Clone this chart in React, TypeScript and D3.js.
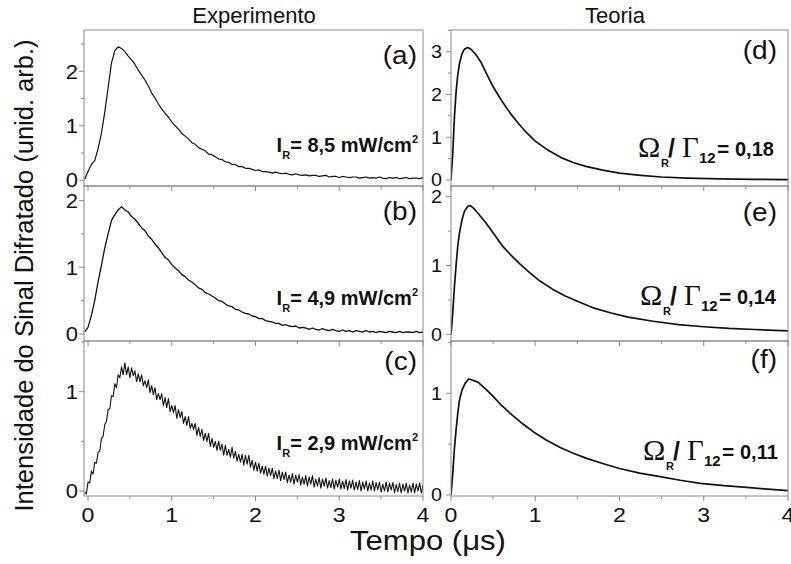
import React from "react";
import * as d3 from "d3";

// ---------- data ----------
const EXP_T0 = -0.04;
const EXP_STEP_AB = 0.04;
const EXP_STEP_C = 0.02;

const expA = [
  0.02, 0.16, 0.29, 0.36, 0.58, 0.86, 1.25, 1.7, 2.15, 2.38,
  2.45, 2.42, 2.36, 2.28, 2.21, 2.13, 2.02, 1.93, 1.84, 1.73,
  1.6, 1.51, 1.4, 1.31, 1.23, 1.16, 1.07, 1.0, 0.94, 0.86,
  0.81, 0.76, 0.69, 0.66, 0.6, 0.57, 0.54, 0.48, 0.47, 0.43,
  0.39, 0.38, 0.34, 0.33, 0.29, 0.29, 0.25, 0.25, 0.22, 0.22,
  0.2, 0.18, 0.19, 0.16, 0.16, 0.15, 0.13, 0.15, 0.13, 0.12,
  0.13, 0.11, 0.1, 0.12, 0.1, 0.09, 0.1, 0.08, 0.09, 0.09,
  0.07, 0.08, 0.09, 0.06, 0.07, 0.07, 0.05, 0.07, 0.06, 0.05,
  0.06, 0.06, 0.04, 0.05, 0.06, 0.04, 0.05, 0.04, 0.06, 0.04,
  0.03, 0.05, 0.04, 0.05, 0.03, 0.04, 0.05, 0.03, 0.04, 0.04,
  0.03, 0.05,
];

const expB = [
  0.03, 0.1, 0.28, 0.5, 0.78, 1.03, 1.29, 1.5, 1.7, 1.79,
  1.86, 1.91, 1.86, 1.83, 1.76, 1.72, 1.66, 1.59, 1.55, 1.47,
  1.42, 1.35, 1.29, 1.22, 1.15, 1.11, 1.04, 0.99, 0.95, 0.89,
  0.86, 0.81, 0.78, 0.74, 0.69, 0.67, 0.62, 0.6, 0.57, 0.54,
  0.5, 0.49, 0.45, 0.42, 0.41, 0.37, 0.36, 0.33, 0.31, 0.3,
  0.27, 0.26, 0.23, 0.23, 0.2, 0.19, 0.18, 0.16, 0.16, 0.13,
  0.14, 0.12, 0.11, 0.12, 0.09, 0.1, 0.09, 0.07, 0.09, 0.07,
  0.06, 0.08, 0.06, 0.05, 0.07, 0.05, 0.04, 0.06, 0.04, 0.05,
  0.03, 0.05, 0.04, 0.03, 0.05, 0.03, 0.04, 0.02, 0.04, 0.03,
  0.02, 0.04, 0.03, 0.02, 0.04, 0.02, 0.03, 0.03, 0.02, 0.04,
  0.02, 0.03,
];

const expC = [
  -0.01, -0.03, 0.09, 0.08, 0.2, 0.17, 0.29, 0.28, 0.39, 0.4,
  0.53, 0.55, 0.67, 0.7, 0.82, 0.83, 0.96, 0.95, 1.08, 1.04,
  1.17, 1.14, 1.25, 1.17, 1.29, 1.17, 1.25, 1.14, 1.24, 1.16,
  1.21, 1.1, 1.18, 1.1, 1.17, 1.06, 1.11, 1.04, 1.12, 0.99,
  1.06, 0.97, 1.04, 0.92, 0.98, 0.92, 0.98, 0.86, 0.94, 0.84,
  0.93, 0.8, 0.86, 0.79, 0.86, 0.73, 0.82, 0.74, 0.8, 0.68,
  0.75, 0.66, 0.75, 0.63, 0.68, 0.62, 0.68, 0.56, 0.64, 0.55,
  0.62, 0.51, 0.58, 0.5, 0.58, 0.45, 0.53, 0.44, 0.5, 0.41,
  0.5, 0.41, 0.47, 0.36, 0.46, 0.36, 0.42, 0.34, 0.44, 0.33,
  0.4, 0.3, 0.37, 0.29, 0.37, 0.26, 0.36, 0.27, 0.36, 0.24,
  0.31, 0.21, 0.29, 0.2, 0.28, 0.18, 0.25, 0.17, 0.25, 0.15,
  0.23, 0.155, 0.23, 0.125, 0.2, 0.125, 0.21, 0.105, 0.19, 0.115,
  0.19, 0.085, 0.16, 0.09, 0.175, 0.07, 0.16, 0.09, 0.165, 0.06,
  0.14, 0.07, 0.155, 0.05, 0.14, 0.07, 0.155, 0.04, 0.12, 0.05,
  0.135, 0.03, 0.12, 0.05, 0.13, 0.03, 0.105, 0.035, 0.12, 0.02,
  0.11, 0.04, 0.12, 0.02, 0.1, 0.025, 0.115, 0.01, 0.1, 0.03,
  0.11, 0.01, 0.09, 0.015, 0.105, 0.0, 0.09, 0.02, 0.1, 0.0,
  0.08, 0.01, 0.1, 0.0, 0.085, 0.015, 0.09, -0.01, 0.07, 0.0,
  0.09, -0.01, 0.08, 0.01, 0.085, -0.015, 0.065, -0.005, 0.08, -0.02,
  0.07, 0.0, 0.08, -0.02, 0.06, -0.01, 0.08, -0.02, 0.07, 0.0,
  0.08, -0.02, 0.06,
];

const theoD: [number, number][] = [
  [0, 0], [0.02, 0.6], [0.04, 1.45], [0.06, 2.05], [0.08, 2.45], [0.1, 2.72],
  [0.13, 2.95], [0.16, 3.06], [0.2, 3.1], [0.24, 3.05], [0.3, 2.92], [0.36, 2.74],
  [0.43, 2.45], [0.5, 2.18], [0.6, 1.86], [0.7, 1.57], [0.8, 1.32], [0.9, 1.1],
  [1.0, 0.91], [1.15, 0.7], [1.3, 0.53], [1.45, 0.41], [1.6, 0.32], [1.8, 0.23],
  [2.0, 0.16], [2.25, 0.11], [2.5, 0.07], [2.8, 0.045], [3.2, 0.025], [3.6, 0.015],
  [4.0, 0.01],
];

const theoE: [number, number][] = [
  [0, 0], [0.02, 0.3], [0.04, 0.68], [0.06, 1.0], [0.08, 1.28], [0.1, 1.47],
  [0.13, 1.66], [0.16, 1.79], [0.2, 1.86], [0.23, 1.87], [0.27, 1.83], [0.32, 1.76],
  [0.42, 1.61], [0.52, 1.44], [0.62, 1.27], [0.72, 1.14], [0.82, 1.02], [0.94, 0.89],
  [1.06, 0.77], [1.2, 0.66], [1.35, 0.56], [1.5, 0.48], [1.7, 0.38], [1.9, 0.31],
  [2.1, 0.25], [2.4, 0.19], [2.7, 0.14], [3.0, 0.11], [3.3, 0.085], [3.6, 0.07],
  [4.0, 0.05],
];

const theoF: [number, number][] = [
  [0, 0], [0.02, 0.2], [0.04, 0.45], [0.06, 0.64], [0.08, 0.8], [0.1, 0.93],
  [0.13, 1.03], [0.17, 1.1], [0.21, 1.14], [0.25, 1.13], [0.32, 1.11], [0.4, 1.05],
  [0.5, 0.97], [0.6, 0.88], [0.72, 0.79], [0.85, 0.7], [0.98, 0.62], [1.13, 0.54],
  [1.29, 0.47], [1.45, 0.41], [1.61, 0.36], [1.8, 0.31], [2.0, 0.26], [2.24, 0.215],
  [2.48, 0.18], [2.72, 0.145], [2.96, 0.115], [3.24, 0.092], [3.51, 0.075], [3.76, 0.058],
  [4.0, 0.042],
];

const xTicks = [0, 1, 2, 3, 4];
const xMinor = [0.5, 1.5, 2.5, 3.5];
const yTicksA = [0, 1, 2];
const yTicksB = [0, 1, 2];
const yTicksC = [0, 1];
const yTicksD = [0, 1, 2, 3];
const yTicksE = [0, 1, 2];
const yTicksF = [0, 1];

const expLabels = ["8,5", "4,9", "2,9"];
const theoLabels = ["0,18", "0,14", "0,11"];
const panelTags = ["(a)", "(b)", "(c)", "(d)", "(e)", "(f)"];

// ---------- layout ----------
const W = 791;
const H = 564;
const SANS = "'Liberation Sans', Arial, Helvetica, sans-serif";
const SERIF = "'Liberation Serif', 'Times New Roman', serif";
const FRAME = "#8a8a8a";
const INK = "#111";

const rows = [
  { top: 30, bottom: 186 },
  { top: 186, bottom: 341 },
  { top: 341, bottom: 496 },
];

type PanelProps = {
  side: "left" | "right";
  row: number;
  yDomain: [number, number];
  yTicks: number[];
  points: [number, number][];
  strokeWidth: number;
  tag: string;
  tagY: number;
  showXLabels: boolean;
  annotation: React.ReactNode;
};

function Panel(p: PanelProps) {
  const { top, bottom } = rows[p.row];
  const left = p.side === "left" ? 84 : 451;
  const right = p.side === "left" ? 423 : 788;
  const x = d3
    .scaleLinear()
    .domain(p.side === "left" ? [-0.048, 4] : [0, 4])
    .range([left, right]);
  const y = d3.scaleLinear().domain(p.yDomain).range([bottom, top]);
  const line = d3
    .line<[number, number]>()
    .x((d) => x(d[0]))
    .y((d) => y(d[1]));
  const clipId = `clip-${p.side}-${p.row}`;
  const yMinor: number[] = [];
  for (let v = 0.5; v < p.yDomain[1]; v += 1) yMinor.push(v);
  const labelRight = p.side === "left" ? 78 : 442;
  const tagX = p.side === "left" ? 417 : 777;

  return (
    <g>
      <defs>
        <clipPath id={clipId}>
          <rect x={left} y={top} width={right - left} height={bottom - top} />
        </clipPath>
      </defs>
      <path
        d={line(p.points) || ""}
        fill="none"
        stroke={INK}
        strokeWidth={p.strokeWidth}
        strokeLinejoin="round"
        clipPath={`url(#${clipId})`}
      />
      <rect
        x={left}
        y={top}
        width={right - left}
        height={bottom - top}
        fill="none"
        stroke={FRAME}
        strokeWidth={1}
      />
      {xTicks.map((t) => (
        <line key={`xt${t}`} x1={x(t)} x2={x(t)} y1={bottom} y2={bottom + 5} stroke={FRAME} />
      ))}
      {xMinor.map((t) => (
        <line key={`xm${t}`} x1={x(t)} x2={x(t)} y1={bottom} y2={bottom + 3} stroke={FRAME} />
      ))}
      {p.yTicks.map((v) => (
        <line key={`yt${v}`} x1={left - 5} x2={left} y1={y(v)} y2={y(v)} stroke={FRAME} />
      ))}
      {yMinor.map((v) => (
        <line key={`ym${v}`} x1={left - 3} x2={left} y1={y(v)} y2={y(v)} stroke={FRAME} />
      ))}
      {p.yTicks.map((v) => (
        <text
          key={`yl${v}`}
          transform={`translate(${labelRight},${y(v)}) scale(1.1,1)`}
          dy="0.36em"
          textAnchor="end"
          fontFamily={SANS}
          fontSize={p.side === "left" ? 20 : 18}
          fill={INK}
        >
          {v}
        </text>
      ))}
      {p.showXLabels &&
        xTicks.map((t) => (
          <text
            key={`xl${t}`}
            transform={`translate(${x(t)},${522}) scale(1.1,1)`}
            textAnchor="middle"
            fontFamily={SANS}
            fontSize={21}
            fill={INK}
          >
            {t}
          </text>
        ))}
      <text
        transform={`translate(${tagX},${p.tagY}) scale(1.12,1)`}
        textAnchor="end"
        fontFamily={SANS}
        fontSize={25}
        fill={INK}
      >
        {p.tag}
      </text>
      {p.annotation}
    </g>
  );
}

function ExpNote({ value, baseline }: { value: string; baseline: number }) {
  return (
    <text
      x={418}
      y={baseline}
      textAnchor="end"
      fontFamily={SANS}
      fontWeight="bold"
      fontSize={20}
      fill={INK}
    >
      I
      <tspan fontSize={11} dy={7}>R</tspan>
      <tspan dy={-7}>= {value} mW/cm</tspan>
      <tspan fontSize={11} dy={-9}>2</tspan>
    </text>
  );
}

function TheoNote({ value, x0, baseline }: { value: string; x0: number; baseline: number }) {
  return (
    <g fill={INK}>
      <text x={x0} y={baseline} fontFamily={SERIF} fontSize={30}>Ω</text>
      <text x={x0 + 23} y={baseline + 10} fontFamily={SANS} fontWeight="bold" fontSize={11}>R</text>
      <text x={x0 + 30} y={baseline} fontFamily={SANS} fontWeight="bold" fontSize={25}>/</text>
      <text x={x0 + 44} y={baseline} fontFamily={SERIF} fontSize={29}>Γ</text>
      <text x={x0 + 61} y={baseline + 6} fontFamily={SANS} fontWeight="bold" fontSize={15}>12</text>
      <text x={x0 + 79} y={baseline - 1} fontFamily={SANS} fontWeight="bold" fontSize={21}>=</text>
      <text x={x0 + 97} y={baseline - 1} fontFamily={SANS} fontWeight="bold" fontSize={20}>{value}</text>
    </g>
  );
}

function toPoints(values: number[], step: number): [number, number][] {
  return values.map((v, i) => [EXP_T0 + i * step, v] as [number, number]);
}

export default function App() {
  return (
    <svg
      width={W}
      height={H}
      viewBox={`0 0 ${W} ${H}`}
      style={{ position: "absolute", left: 0, top: 0, background: "#fff" }}
    >
      <rect x={0} y={0} width={W} height={H} fill="#fff" />
      <text x={254} y={23} textAnchor="middle" fontFamily={SANS} fontSize={22} fill={INK}>
        Experimento
      </text>
      <text x={615} y={23} textAnchor="middle" fontFamily={SANS} fontSize={22} fill={INK}>
        Teoria
      </text>
      <text
        transform="translate(33,275.5) rotate(-90)"
        textAnchor="middle"
        fontFamily={SANS}
        fontSize={25.5}
        fill={INK}
      >
        Intensidade do Sinal Difratado (unid. arb.)
      </text>
      <text
        transform="translate(428,550) scale(1.15,1)"
        textAnchor="middle"
        fontFamily={SANS}
        fontSize={27}
        fill={INK}
      >
        Tempo (μs)
      </text>

      <Panel side="left" row={0} yDomain={[-0.105, 2.758]} yTicks={yTicksA} points={toPoints(expA, EXP_STEP_AB)}
        strokeWidth={1.2} tag={panelTags[0]} tagY={64} showXLabels={false}
        annotation={<ExpNote value={expLabels[0]} baseline={152} />} />
      <Panel side="left" row={1} yDomain={[-0.105, 2.219]} yTicks={yTicksB} points={toPoints(expB, EXP_STEP_AB)}
        strokeWidth={1.3} tag={panelTags[1]} tagY={220} showXLabels={false}
        annotation={<ExpNote value={expLabels[1]} baseline={305} />} />
      <Panel side="left" row={2} yDomain={[-0.05, 1.51]} yTicks={yTicksC} points={toPoints(expC, EXP_STEP_C)}
        strokeWidth={1.1} tag={panelTags[2]} tagY={370} showXLabels={true}
        annotation={<ExpNote value={expLabels[2]} baseline={450} />} />

      <Panel side="right" row={0} yDomain={[-0.14, 3.507]} yTicks={yTicksD} points={theoD}
        strokeWidth={1.7} tag={panelTags[3]} tagY={59} showXLabels={false}
        annotation={<TheoNote value={theoLabels[0]} x0={638} baseline={157} />} />
      <Panel side="right" row={1} yDomain={[-0.097, 2.155]} yTicks={yTicksE} points={theoE}
        strokeWidth={1.7} tag={panelTags[4]} tagY={221} showXLabels={false}
        annotation={<TheoNote value={theoLabels[1]} x0={640} baseline={305} />} />
      <Panel side="right" row={2} yDomain={[-0.01, 1.514]} yTicks={yTicksF} points={theoF}
        strokeWidth={1.7} tag={panelTags[5]} tagY={368} showXLabels={true}
        annotation={<TheoNote value={theoLabels[2]} x0={643} baseline={460} />} />
    </svg>
  );
}
